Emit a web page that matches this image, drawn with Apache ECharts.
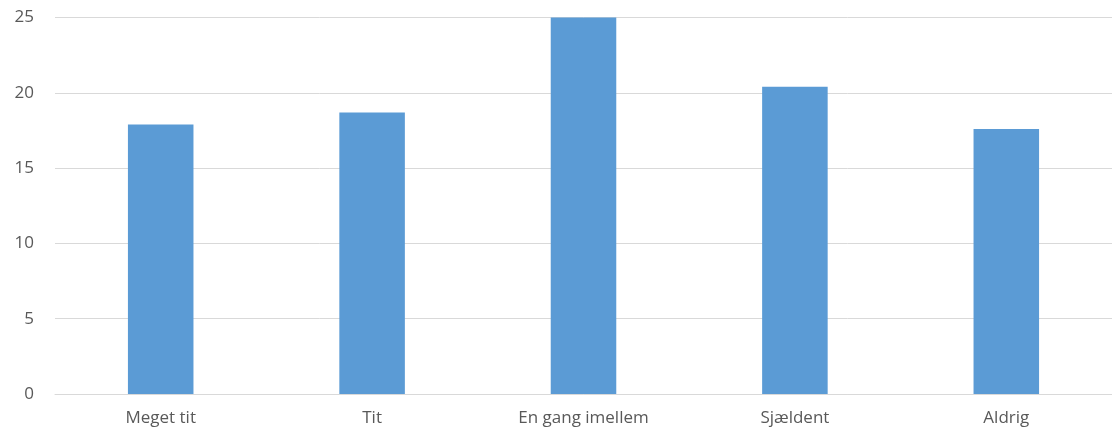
<!DOCTYPE html>
<html>
<head>
<meta charset="utf-8">
<script src="https://cdn.jsdelivr.net/npm/echarts@6/dist/echarts.min.js"></script>
<style>html,body{margin:0;padding:0;background:#fff}#c{width:1112px;height:438px}</style>
</head>
<body>
<div id="c"></div>
<script>
const categories = ["Meget tit", "Tit", "En gang imellem", "Sjældent", "Aldrig"];
const values = [17.9, 18.7, 25.0, 20.4, 17.6];
const yTicks = [0, 5, 10, 15, 20, 25];

const chart = echarts.init(document.getElementById('c'), null, {renderer: 'canvas'});
chart.setOption({
  animation: false,
  grid: {left: 55, right: -3, top: 17.5, bottom: 44, containLabel: false},
  xAxis: {
    type: 'category',
    data: categories,
    axisLine: {show: true, lineStyle: {color: '#d9d9d9', width: 1}},
    axisTick: {show: false},
    axisLabel: {color: '#595959', fontSize: 17, fontFamily: 'Open Sans', margin: 16}
  },
  yAxis: {
    type: 'value',
    min: yTicks[0],
    max: yTicks[yTicks.length - 1],
    interval: 5,
    axisLine: {show: false},
    axisTick: {show: false},
    splitLine: {lineStyle: {color: '#d9d9d9', width: 1}},
    axisLabel: {color: '#595959', fontSize: 17, fontFamily: 'Open Sans', margin: 21}
  },
  series: [{
    type: 'bar',
    data: values,
    barWidth: '31%',
    itemStyle: {color: '#5b9bd5'},
    clip: false
  }]
});
</script>
</body>
</html>
